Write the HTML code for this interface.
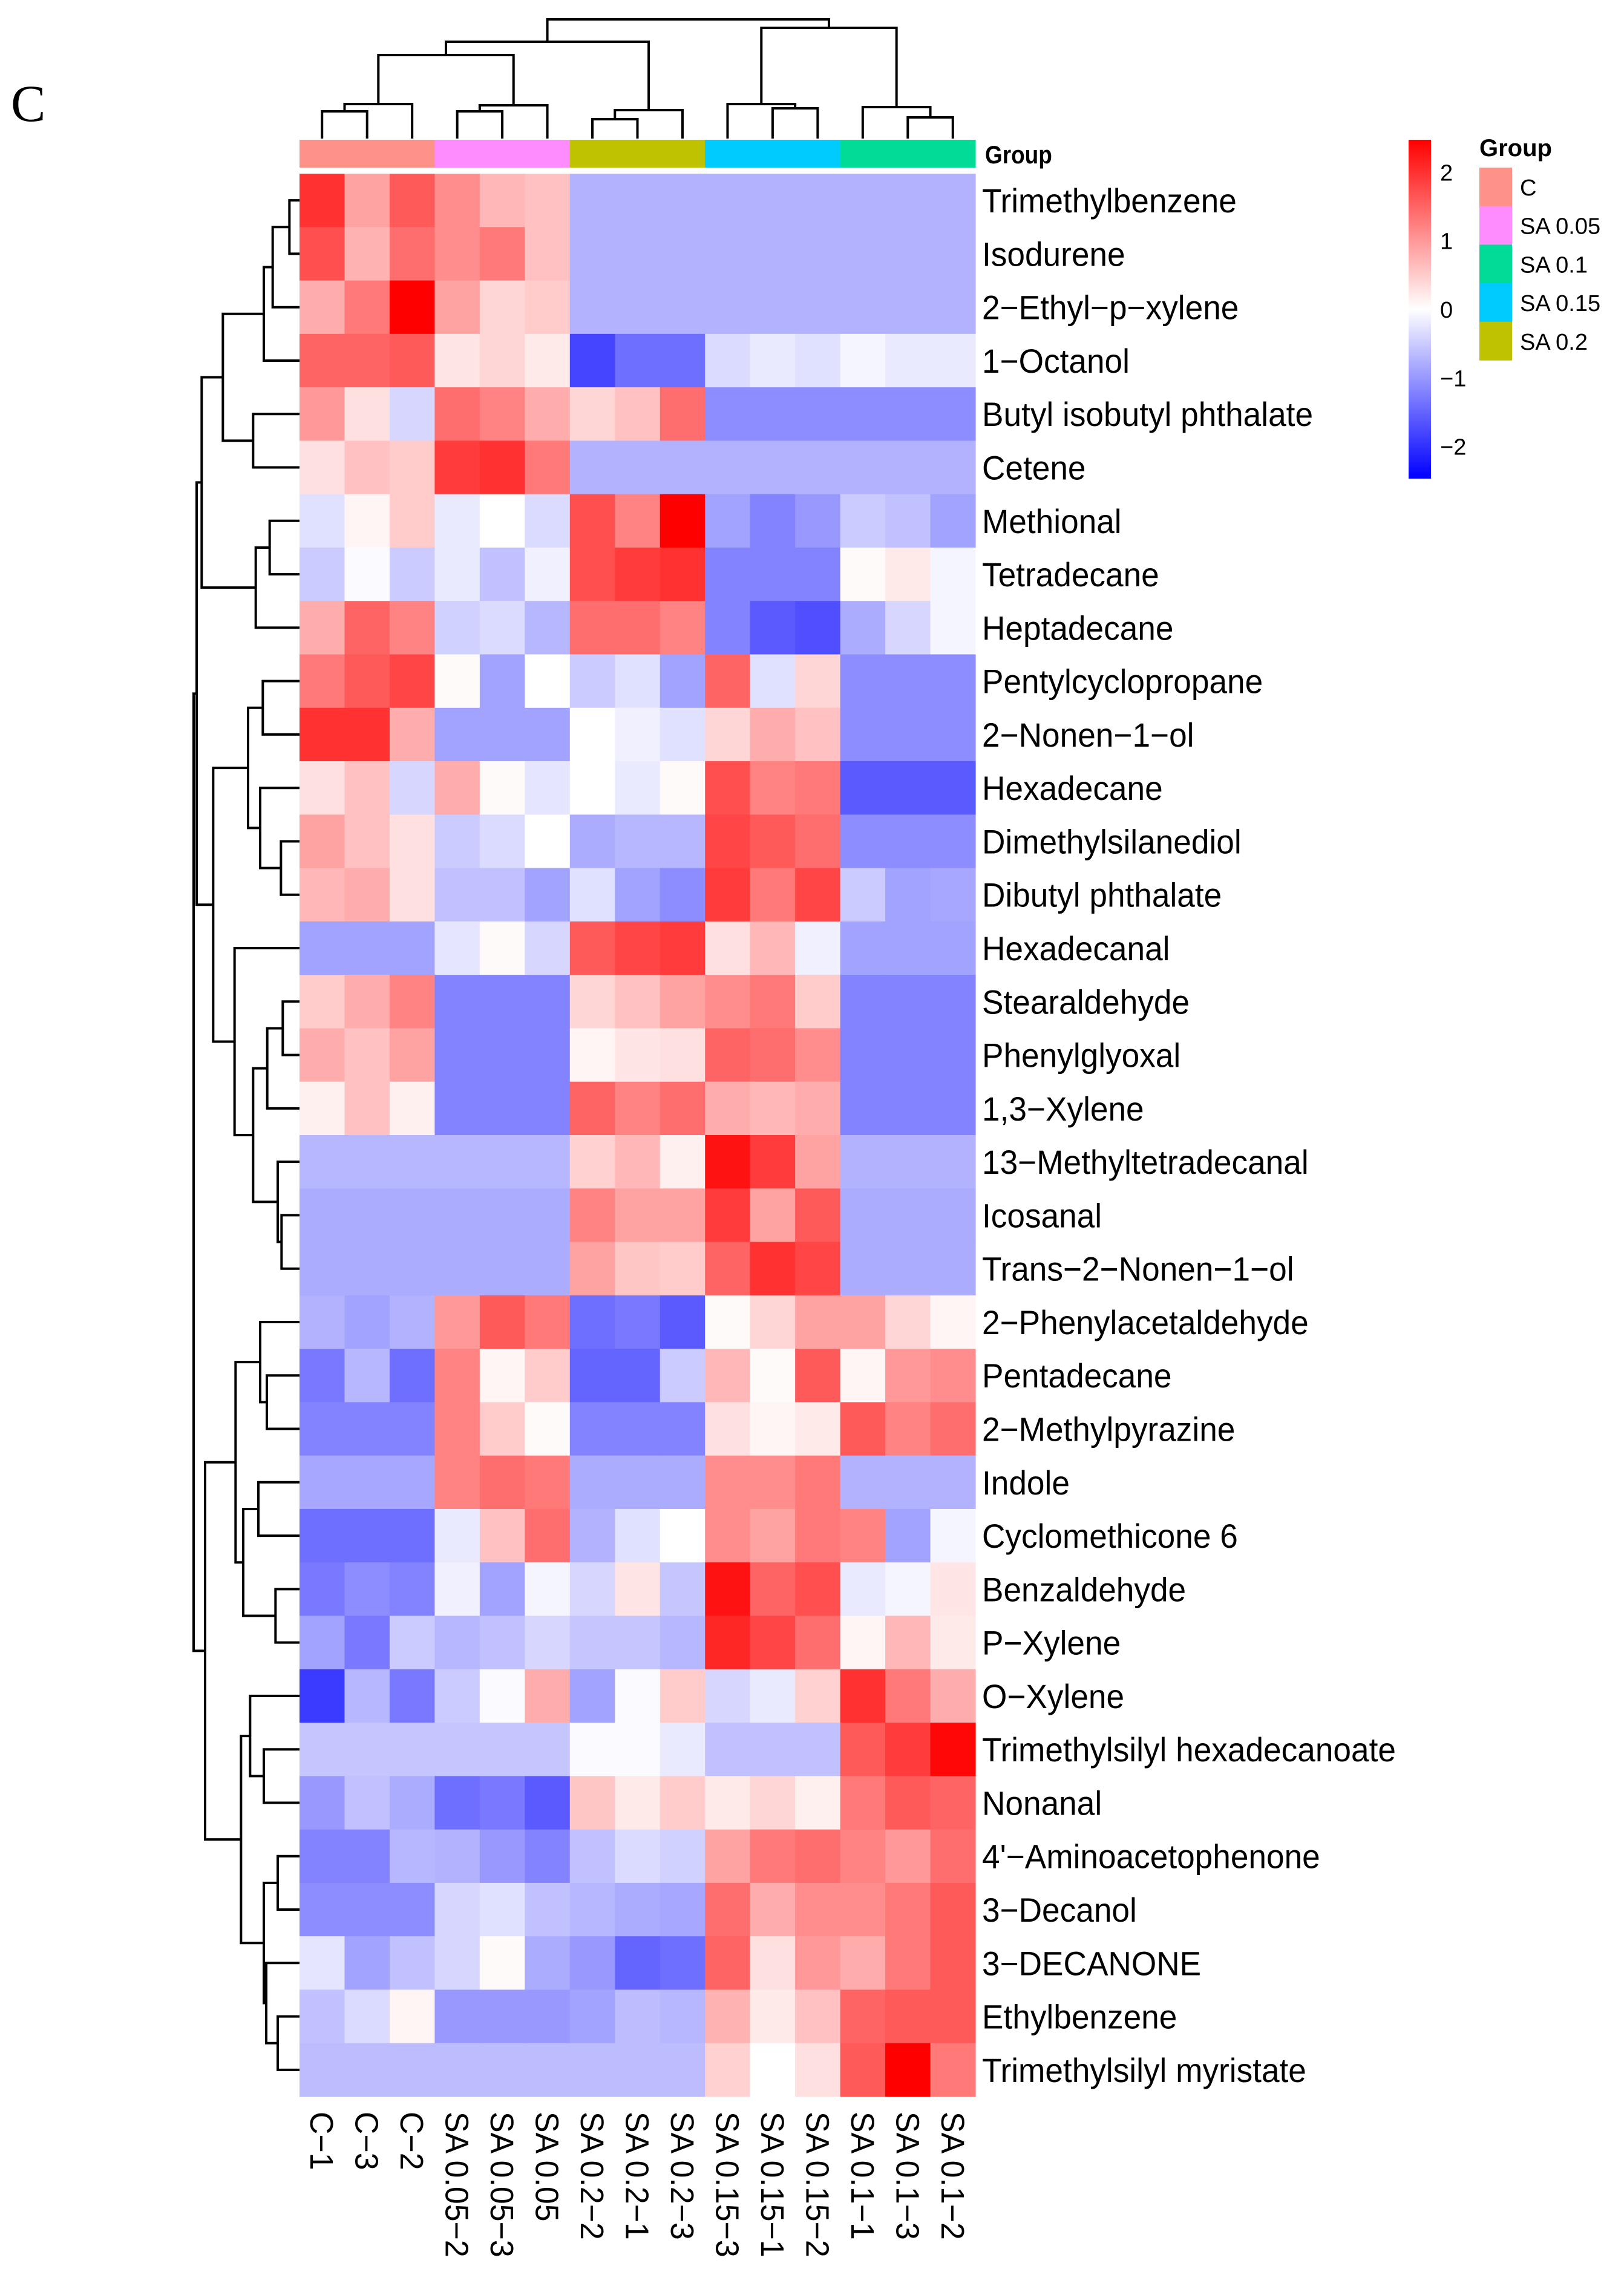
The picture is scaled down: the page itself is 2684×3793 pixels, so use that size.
<!DOCTYPE html>
<html><head><meta charset="utf-8">
<style>
html,body{margin:0;padding:0;background:#fff;}
svg{display:block;font-family:"Liberation Sans",sans-serif;}
</style></head>
<body>
<svg id="chart" width="2684" height="3793" viewBox="0 0 2684 3793" xmlns="http://www.w3.org/2000/svg">
<defs>
<linearGradient id="cbar" x1="0" y1="0" x2="0" y2="1">
<stop offset="0" stop-color="#ff0000"/><stop offset="0.5" stop-color="#ffffff"/><stop offset="1" stop-color="#0000ff"/>
</linearGradient>
</defs>
<text x="18" y="200" font-family="Liberation Serif,serif" font-size="86">C</text>
<g id="coldendro"></g>
<g id="rowdendro"></g>
<g id="groupbar"></g>
<text x="1628" y="270" font-size="42" font-weight="bold" transform="translate(1628,0) scale(0.88,1) translate(-1628,0)">Group</text>
<g id="cells"></g>
<g id="rowlabels"></g>
<g id="collabels"></g>
<rect x="2328" y="231" width="37" height="560" fill="url(#cbar)"/>
<g id="cbticks"></g>
<g id="legend">
<text x="2445" y="258" font-size="40" font-weight="bold">Group</text>
</g>
</svg>
<script>
const rowNames = ["Trimethylbenzene","Isodurene","2\u2212Ethyl\u2212p\u2212xylene","1\u2212Octanol","Butyl isobutyl phthalate","Cetene","Methional","Tetradecane","Heptadecane","Pentylcyclopropane","2\u2212Nonen\u22121\u2212ol","Hexadecane","Dimethylsilanediol","Dibutyl phthalate","Hexadecanal","Stearaldehyde","Phenylglyoxal","1,3\u2212Xylene","13\u2212Methyltetradecanal","Icosanal","Trans\u22122\u2212Nonen\u22121\u2212ol","2\u2212Phenylacetaldehyde","Pentadecane","2\u2212Methylpyrazine","Indole","Cyclomethicone 6","Benzaldehyde","P\u2212Xylene","O\u2212Xylene","Trimethylsilyl hexadecanoate","Nonanal","4'\u2212Aminoacetophenone","3\u2212Decanol","3\u2212DECANONE","Ethylbenzene","Trimethylsilyl myristate"];
const colNames = ["C\u22121","C\u22123","C\u22122","SA 0.05\u22122","SA 0.05\u22123","SA 0.05","SA 0.2\u22122","SA 0.2\u22121","SA 0.2\u22123","SA 0.15\u22123","SA 0.15\u22121","SA 0.15\u22122","SA 0.1\u22121","SA 0.1\u22123","SA 0.1\u22122"];
const colGroups = ["C","C","C","SA 0.05","SA 0.05","SA 0.05","SA 0.2","SA 0.2","SA 0.2","SA 0.15","SA 0.15","SA 0.15","SA 0.1","SA 0.1","SA 0.1"];
const legendGroups = ["C","SA 0.05","SA 0.1","SA 0.15","SA 0.2"];
const groupColors = {"C":"#ff9288","SA 0.05":"#ff8cff","SA 0.1":"#00db97","SA 0.15":"#00cbff","SA 0.2":"#bfc200"};
const scaleTicks = [2,1,0,-1,-2];
const values = [
[2.0,0.9,1.6,1.1,0.7,0.6,-0.75,-0.75,-0.75,-0.75,-0.75,-0.75,-0.75,-0.75,-0.75],
[1.7,0.75,1.4,1.1,1.3,0.6,-0.75,-0.75,-0.75,-0.75,-0.75,-0.75,-0.75,-0.75,-0.75],
[0.8,1.3,2.47,0.9,0.4,0.5,-0.75,-0.75,-0.75,-0.75,-0.75,-0.75,-0.75,-0.75,-0.75],
[1.5,1.5,1.6,0.25,0.4,0.2,-1.8,-1.4,-1.4,-0.35,-0.2,-0.3,-0.1,-0.2,-0.2],
[1.0,0.3,-0.4,1.4,1.2,0.8,0.4,0.6,1.4,-1.1,-1.1,-1.1,-1.1,-1.1,-1.1],
[0.3,0.6,0.5,1.9,2.0,1.3,-0.75,-0.75,-0.75,-0.75,-0.75,-0.75,-0.75,-0.75,-0.75],
[-0.3,0.1,0.5,-0.2,0.0,-0.35,1.7,1.2,2.47,-0.9,-1.2,-1.0,-0.5,-0.6,-0.9],
[-0.5,-0.05,-0.5,-0.2,-0.6,-0.15,1.7,1.9,2.0,-1.2,-1.2,-1.2,0.05,0.2,-0.1],
[0.8,1.5,1.2,-0.45,-0.35,-0.7,1.4,1.4,1.2,-1.2,-1.6,-1.7,-0.8,-0.4,-0.1],
[1.3,1.6,1.8,0.05,-0.9,0.0,-0.5,-0.3,-0.9,1.5,-0.3,0.4,-1.1,-1.1,-1.1],
[2.0,2.0,0.8,-0.9,-0.9,-0.9,0.0,-0.15,-0.3,0.4,0.8,0.6,-1.1,-1.1,-1.1],
[0.3,0.6,-0.4,0.8,0.05,-0.25,0.0,-0.2,0.05,1.7,1.2,1.3,-1.6,-1.6,-1.6],
[0.9,0.6,0.3,-0.5,-0.35,0.0,-0.8,-0.7,-0.7,1.8,1.6,1.4,-1.1,-1.1,-1.1],
[0.7,0.8,0.3,-0.6,-0.6,-0.9,-0.3,-0.9,-1.1,1.9,1.3,1.8,-0.5,-0.9,-0.85],
[-0.9,-0.9,-0.9,-0.25,0.05,-0.4,1.6,1.8,1.9,0.3,0.7,-0.15,-0.9,-0.9,-0.9],
[0.5,0.8,1.2,-1.2,-1.2,-1.2,0.4,0.6,0.9,1.1,1.3,0.5,-1.2,-1.2,-1.2],
[0.8,0.6,0.9,-1.2,-1.2,-1.2,0.1,0.25,0.3,1.5,1.4,1.1,-1.2,-1.2,-1.2],
[0.15,0.6,0.15,-1.2,-1.2,-1.2,1.5,1.2,1.4,0.8,0.7,0.8,-1.2,-1.2,-1.2],
[-0.7,-0.7,-0.7,-0.7,-0.7,-0.7,0.45,0.7,0.15,2.3,1.9,0.9,-0.75,-0.75,-0.75],
[-0.8,-0.8,-0.8,-0.8,-0.8,-0.8,1.2,0.9,0.9,1.9,0.9,1.6,-0.8,-0.8,-0.8],
[-0.8,-0.8,-0.8,-0.8,-0.8,-0.8,0.9,0.55,0.5,1.5,2.0,1.8,-0.8,-0.8,-0.8],
[-0.75,-0.9,-0.75,1.0,1.6,1.3,-1.4,-1.3,-1.6,0.05,0.4,0.9,0.9,0.4,0.1],
[-1.3,-0.7,-1.4,1.2,0.1,0.5,-1.5,-1.5,-0.5,0.7,0.05,1.6,0.1,1.0,1.1],
[-1.2,-1.2,-1.2,1.2,0.5,0.05,-1.2,-1.2,-1.2,0.3,0.1,0.2,1.6,1.2,1.4],
[-0.85,-0.85,-0.85,1.2,1.4,1.3,-0.8,-0.8,-0.8,1.1,1.1,1.3,-0.75,-0.75,-0.75],
[-1.4,-1.4,-1.4,-0.2,0.6,1.4,-0.75,-0.3,0.0,1.1,0.9,1.3,1.2,-0.9,-0.1],
[-1.3,-1.1,-1.2,-0.15,-0.9,-0.1,-0.4,0.25,-0.55,2.3,1.5,1.7,-0.2,-0.1,0.25],
[-0.9,-1.3,-0.5,-0.7,-0.6,-0.4,-0.55,-0.55,-0.7,2.1,1.8,1.4,0.1,0.7,0.2],
[-1.9,-0.7,-1.3,-0.5,-0.05,0.8,-0.9,-0.05,0.5,-0.4,-0.2,0.45,2.0,1.3,0.8],
[-0.55,-0.55,-0.55,-0.55,-0.55,-0.55,-0.05,-0.05,-0.2,-0.6,-0.6,-0.6,1.6,1.9,2.4],
[-1.0,-0.6,-0.8,-1.4,-1.3,-1.6,0.55,0.2,0.5,0.2,0.4,0.15,1.3,1.6,1.5],
[-1.2,-1.2,-0.7,-0.75,-1.0,-1.2,-0.6,-0.35,-0.45,0.9,1.3,1.4,1.2,1.0,1.4],
[-1.1,-1.1,-1.1,-0.4,-0.3,-0.6,-0.7,-0.8,-0.85,1.4,0.8,1.1,1.1,1.3,1.6],
[-0.25,-0.9,-0.6,-0.4,0.05,-0.8,-1.0,-1.5,-1.4,1.5,0.3,1.0,0.8,1.3,1.6],
[-0.6,-0.35,0.1,-1.0,-1.0,-1.0,-0.9,-0.65,-0.7,0.75,0.2,0.6,1.5,1.6,1.6],
[-0.65,-0.65,-0.65,-0.65,-0.65,-0.65,-0.65,-0.65,-0.65,0.45,0.0,0.3,1.6,2.47,1.3]
];
const NS="http://www.w3.org/2000/svg";
const X0=495, X1=1612, Y0=287, Y1=3465, VMAX=2.47;
const cw=(X1-X0)/colNames.length, rh=(Y1-Y0)/rowNames.length;
function xCol(i){return X0+i*cw;}
function yRow(i){return Y0+i*rh;}
function color(v){
  let t=Math.max(-1,Math.min(1,v/VMAX));
  if(t>=0){const g=Math.round(255*(1-t));return `rgb(255,${g},${g})`;}
  const g=Math.round(255*(1+t));return `rgb(${g},${g},255)`;
}
function mk(tag,attrs,parent){const e=document.createElementNS(NS,tag);for(const k in attrs)e.setAttribute(k,attrs[k]);parent.appendChild(e);return e;}
const cells=document.getElementById('cells');
values.forEach((row,r)=>row.forEach((v,c)=>{
  const e=mk('rect',{x:xCol(c),y:yRow(r),width:cw+0.6,height:rh+0.6,fill:color(v)},cells);
  
  
}));
const gb=document.getElementById('groupbar');
colGroups.forEach((g,c)=>{
  const e=mk('rect',{x:xCol(c),y:231,width:cw+0.6,height:46,fill:groupColors[g]},gb);
  
  
});
const rl=document.getElementById('rowlabels');
rowNames.forEach((n,r)=>{
  const e=mk('text',{x:1623,y:yRow(r)+rh/2+20,'font-size':56,transform:'translate(1623,0) scale(0.95,1) translate(-1623,0)'},rl);
  e.textContent=n;
  
  
});
const cl=document.getElementById('collabels');
colNames.forEach((n,c)=>{
  const cx=xCol(c)+cw/2-19;
  const e=mk('text',{x:0,y:0,'font-size':54,transform:`translate(${cx},3490) rotate(90) scale(0.96,1)`},cl);
  e.textContent=n;
  
  
});
const cb=document.getElementById('cbticks');
scaleTicks.forEach(t=>{
  const y=231+(VMAX-t)/(2*VMAX)*560;
  const e=mk('text',{x:2380,y:y+14,'font-size':38},cb);
  e.textContent=(t<0?'\u2212':'')+Math.abs(t);
  
  
});
const lg=document.getElementById('legend');
legendGroups.forEach((g,i)=>{
  const y=277+i*63.7;
  const r=mk('rect',{x:2445,y:y,width:54,height:64,fill:groupColors[g]},lg);
  
  
  const t=mk('text',{x:2512,y:y+46,'font-size':38},lg);
  t.textContent=g;
  
  
});
function N(h,a,b){return {h:h,a:a,b:b};}
const colTree=N(32,N(69,N(91,N(172,N(184,0,1),2),N(174,N(184,3,4),5)),N(182,N(197,6,7),8)),N(46,N(172,9,N(179,10,11)),N(177,12,N(194,13,14))));
(function(){
  const g=document.getElementById('coldendro');
  function draw(node){
    if(typeof node==='number') return [xCol(node)+cw/2,229];
    const A=draw(node.a),B=draw(node.b);
    const p=mk('path',{d:`M${A[0]},${A[1]} V${node.h} H${B[0]} V${B[1]}`,fill:'none',stroke:'#000','stroke-width':4},g);
    
    
    return [(A[0]+B[0])/2,node.h];
  }
  draw(colTree);
})();
const rowTree=N(60,
  N(75,
    N(100,N(205,N(408,N(452,N(535,0,1),2),3),N(355,4,5)),N(368,N(437,6,7),8)),
    N(157,N(330,N(403,9,10),N(390,11,N(493,12,13))),N(263,14,N(355,N(425,N(502,15,16),17),N(477,18,N(496,19,20)))))),
  N(117,
    N(268,N(390,21,N(423,22,23)),N(306,N(381,24,25),N(466,26,27))),
    N(295,N(340,28,N(408,29,30)),N(408,N(477,31,32),N(420,33,N(477,34,35))))));
(function(){
  const g=document.getElementById('rowdendro');
  function draw(node){
    if(typeof node==='number') return [yRow(node)+rh/2,X0];
    const A=draw(node.a),B=draw(node.b);
    const h=300+node.h/3;
    const p=mk('path',{d:`M${A[1]},${A[0]} H${h} V${B[0]} H${B[1]}`,fill:'none',stroke:'#000','stroke-width':4},g);
    
    
    return [(A[0]+B[0])/2,h];
  }
  draw(rowTree);
})();
</script>
</body></html>
